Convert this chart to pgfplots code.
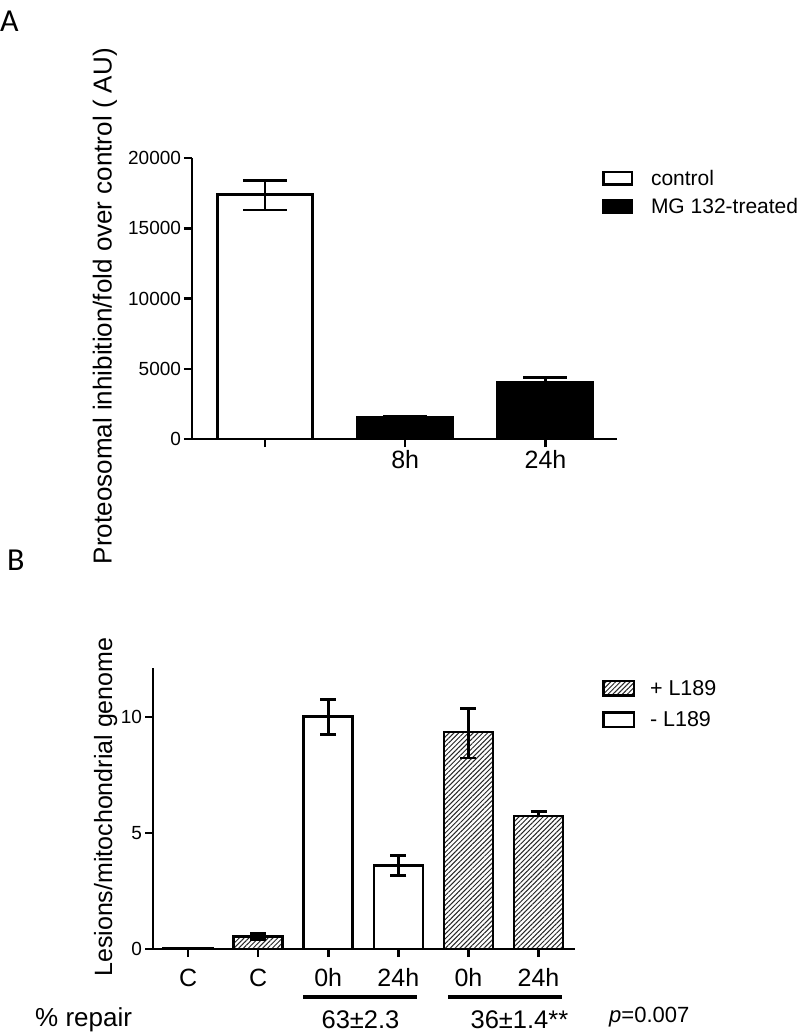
\documentclass[border=0pt]{standalone}
\usepackage{pgfplots}
\pgfplotsset{compat=1.18}
\usepackage{fontspec}
\setmainfont{Liberation Sans}
\newfontfamily\calibri{Carlito}
\usetikzlibrary{patterns.meta}
\newcommand{\fs}[1]{\fontsize{#1}{#1}\selectfont}
\pgfplotsset{
  myaxis/.style={
    scale only axis,
    axis x line*=bottom, axis y line*=left,
    axis line style={line width=2.5pt, black},
    every tick/.style={black, line width=2.5pt},
    major tick length=8pt,
    tick align=outside,
    enlargelimits=false,
    /pgf/number format/assume math mode=true,
    /pgf/number format/1000 sep={},
    scaled y ticks=false,
    yticklabel style={font=\fs{19}, xshift=0.5pt},
    xticklabel style={font=\fs{25}},
    legend cell align=left,
    clip=false,
  },
  boxlegendA/.style={legend image code/.code={\draw[##1, line width=2.5pt] (0pt,-6.25pt) rectangle (28.5pt,6.25pt);}},
  boxlegendB/.style={legend image code/.code={\draw[##1, line width=2.5pt] (0pt,-7.25pt) rectangle (30.5pt,7.25pt);}},
  errA/.style={error bars/.cd, y dir=both, y explicit,
     error bar style={line width=2.5pt,black},
     error mark options={rotate=90, line width=2.5pt, mark size=22pt, black}},
  errB/.style={error bars/.cd, y dir=both, y explicit,
     error bar style={line width=2.5pt,black},
     error mark options={rotate=90, line width=2.5pt, mark size=8pt, black}},
}
\begin{document}
\begin{tikzpicture}
\useasboundingbox (0pt,0pt) rectangle (800pt,-1033pt);
\node[anchor=base west, font=\calibri\fs{32}, inner sep=0pt] at (0pt,-32pt) {A};
\node[anchor=base west, font=\calibri\fs{32}, inner sep=0pt] at (7pt,-570pt) {B};

% Panel A
\begin{axis}[myaxis, at={(192pt,-439pt)}, anchor=south west, width=425pt, height=281pt,
  xmin=-0.52, xmax=2.51, ymin=0, ymax=20000,
  xtick={0,1,2}, xticklabels={,8h,24h},
  ytick={0,5000,10000,15000,20000},
  ylabel={Proteosomal inhibition/fold over control ( AU)},
  ylabel style={font=\fs{26}, at={(axis description cs:-0.205,0.473)}, anchor=center},
  legend style={at={(axis description cs:0.9647,0.957)}, anchor=north west, draw=none, fill=none,
    font=\fs{21}, row sep=11pt, inner sep=0pt, outer sep=0pt,
    nodes={inner sep=0pt},
    /tikz/every odd column/.append style={column sep=18pt}},
]
\addplot[ybar, bar width=0.68, bar shift=0pt, fill=white, draw=black, line width=2.6pt, boxlegendA, errA]
  coordinates {(0,17400) += (0,1000) -= (0,1100)};
\addlegendentry{control}
\addplot[ybar, bar width=0.68, bar shift=0pt, fill=black, draw=black, line width=2.6pt, boxlegendA, errA]
  coordinates {(1,1550) += (0,90) -= (0,0) (2,4030) += (0,360) -= (0,0)};
\addlegendentry{MG 132-treated}
\end{axis}

% Panel B
\begin{axis}[myaxis, at={(153pt,-949pt)}, anchor=south west, width=422pt, height=281pt,
  xmin=-0.5, xmax=5.52, ymin=0, ymax=12.1,
  xtick={0,1,2,3,4,5}, xticklabels={C,C,0h,24h,0h,24h},
  xticklabel style={yshift=-8pt},
  ytick={0,5,10},
  ylabel={Lesions/mitochondrial genome},
  ylabel style={font=\fs{25}, at={(axis description cs:-0.112,0.505)}, anchor=center},
  legend style={at={(axis description cs:1.064,0.958)}, anchor=north west, draw=none, fill=none,
    font=\fs{21.5}, row sep=14.5pt, inner sep=0pt, outer sep=0pt,
    nodes={inner sep=0pt},
    /tikz/every odd column/.append style={column sep=15pt}},
]
\addplot[ybar, bar width=0.7, bar shift=0pt, draw=black, line width=2.6pt,
  pattern={Lines[angle=45,distance=3.4pt,line width=1pt]}, pattern color=black!85, boxlegendB, errB]
  coordinates {(1,0.54) += (0,0.12) -= (0,0.12) (4,9.34) += (0,1.02) -= (0,1.11) (5,5.72) += (0,0.21) -= (0,0)};
\addlegendentry{+ L189}
\addplot[ybar, bar width=0.7, bar shift=0pt, fill=white, draw=black, line width=2.6pt, boxlegendB, errB]
  coordinates {(0,0.03) += (0,0) -= (0,0) (2,10.0) += (0,0.75) -= (0,0.76) (3,3.6) += (0,0.42) -= (0,0.43)};
\addlegendentry{- L189}
\draw[line width=4pt] (axis cs:1.645,-2.06) -- (axis cs:3.27,-2.06);
\draw[line width=4pt] (axis cs:3.71,-2.06) -- (axis cs:5.33,-2.06);
\node[font=\fs{26}] at (axis cs:-1.49,-3.05) {\% repair};
\node[font=\fs{25.5}] at (axis cs:2.46,-3.05) {63±2.3};
\node[font=\fs{25.5}, anchor=west] at (axis cs:3.98,-3.05) {36±1.4**};
\node[font=\fs{22}] at (axis cs:6.58,-2.92) {\textit{p}=0.007};
\end{axis}
\end{tikzpicture}
\end{document}
